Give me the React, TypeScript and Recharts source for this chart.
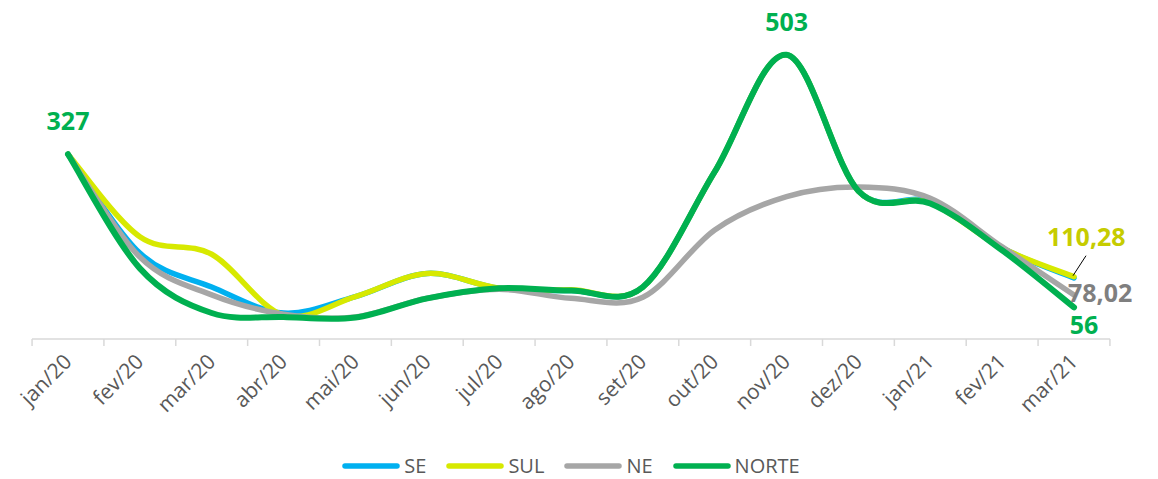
import { LineChart, Line, XAxis, YAxis, Legend, LabelList } from 'recharts'

const MESES = [
  'jan/20', 'fev/20', 'mar/20', 'abr/20', 'mai/20', 'jun/20', 'jul/20', 'ago/20',
  'set/20', 'out/20', 'nov/20', 'dez/20', 'jan/21', 'fev/21', 'mar/21',
]
const SE = [327, 152, 92, 46, 75, 116, 90, 86, 92, 296, 503, 262, 243, 161, 108]
const SUL = [327, 181, 150, 42, 75, 116, 90, 87, 92, 296, 503, 262, 241, 161, 110.28]
const NE = [327, 145, 78, 44, 39, 72, 88, 72, 74, 193, 252, 269, 249, 163, 78.02]
const NORTE = [327, 125, 46, 39, 38, 72, 90, 86, 92, 296, 503, 262, 240, 157, 56]

const SERIES = [
  { key: 'SE', color: '#00b0f0' },
  { key: 'SUL', color: '#d7e900' },
  { key: 'NE', color: '#a6a6a6' },
  { key: 'NORTE', color: '#00b050' },
]

const data = MESES.map((mes, i) => ({
  mes,
  SE: SE[i],
  SUL: SUL[i],
  NE: NE[i],
  NORTE: NORTE[i],
}))

const FONT = '"Open Sans", sans-serif'
const LAST = MESES.length - 1
const HALF_STEP = (1078 - 72) / 14 / 2

// smooth line like excel's (catmull-rom through every point)
const excelSmooth = (ctx: any) => {
  let pts: number[][] = []
  return {
    areaStart() {},
    areaEnd() {},
    lineStart() {
      pts = []
    },
    point(x: number, y: number) {
      pts.push([+x, +y])
    },
    lineEnd() {
      const n = pts.length
      if (!n) return
      ctx.moveTo(pts[0][0], pts[0][1])
      for (let i = 0; i < n - 1; i++) {
        const p0 = pts[Math.max(i - 1, 0)]
        const p1 = pts[i]
        const p2 = pts[i + 1]
        const p3 = pts[Math.min(i + 2, n - 1)]
        ctx.bezierCurveTo(
          p1[0] + (p2[0] - p0[0]) / 6,
          p1[1] + (p2[1] - p0[1]) / 6,
          p2[0] - (p3[0] - p1[0]) / 6,
          p2[1] - (p3[1] - p1[1]) / 6,
          p2[0],
          p2[1],
        )
      }
    },
  }
}

const fmt = (v: number) => (Number.isInteger(v) ? String(v) : v.toFixed(2).replace('.', ','))

const pos = (props: any) => ({
  x: props.x ?? props.viewBox?.x,
  y: props.y ?? props.viewBox?.y,
})

function rotuloNorte(props: any) {
  const { index, value } = props
  const { x, y } = pos(props)
  const style = { fontFamily: FONT, fontSize: 25, fontWeight: 700, fill: '#00b050' }
  if (index === 0 || index === 10) {
    return <text x={x} y={y - 24} textAnchor="middle" {...style}>{fmt(value)}</text>
  }
  if (index === LAST) {
    return <text x={x + 10} y={y + 27} textAnchor="middle" {...style}>{fmt(value)}</text>
  }
  return null
}

function rotuloNe(props: any) {
  const { index, value } = props
  if (index !== LAST) return null
  const { x, y } = pos(props)
  return (
    <text x={x - 6} y={y + 7} fontFamily={FONT} fontSize={25} fontWeight={700} fill="#7f7f7f">
      {fmt(value)}
    </text>
  )
}

function rotuloSul(props: any) {
  const { index, value } = props
  if (index !== LAST) return null
  const { x, y } = pos(props)
  return (
    <g>
      <line x1={x - 1} y1={y - 1} x2={x + 12} y2={y - 21} stroke="#000" strokeWidth={1} />
      <text x={x - 27} y={y - 31} fontFamily={FONT} fontSize={25} fontWeight={700} fill="#c6cc00">
        {fmt(value)}
      </text>
    </g>
  )
}

function MesTick({ x, y, payload, index, visibleTicksCount }: any) {
  return (
    <g>
      <line x1={x - HALF_STEP} x2={x - HALF_STEP} y1={y} y2={y + 7} stroke="#d9d9d9" strokeWidth={1.5} />
      {index === visibleTicksCount - 1 && (
        <line x1={x + HALF_STEP} x2={x + HALF_STEP} y1={y} y2={y + 7} stroke="#d9d9d9" strokeWidth={1.5} />
      )}
      <text
        x={x + 5}
        y={y + 24}
        textAnchor="end"
        transform={`rotate(-45 ${x + 5} ${y + 24})`}
        fontFamily={FONT}
        fontSize={21}
        fill="#595959"
      >
        {payload.value}
      </text>
    </g>
  )
}

function Legenda() {
  return (
    <div
      style={{
        display: 'flex',
        justifyContent: 'center',
        alignItems: 'center',
        gap: 20,
        paddingTop: 17,
        fontFamily: FONT,
        fontSize: 20,
        color: '#595959',
      }}
    >
      {SERIES.map((s) => (
        <div key={s.key} style={{ display: 'flex', alignItems: 'center', gap: 4 }}>
          <svg width={58} height={8}>
            <line x1={3} x2={55} y1={4} y2={4} stroke={s.color} strokeWidth={5.5} strokeLinecap="round" />
          </svg>
          <span style={{ lineHeight: '20px' }}>{s.key}</span>
        </div>
      ))}
    </div>
  )
}

export default function App() {
  return (
    <div style={{ position: 'absolute', left: 0, top: 0, width: 1158, height: 479, background: '#fff' }}>
      <LineChart width={1158} height={479} data={data} margin={{ top: 0, right: 48, bottom: 0, left: 32 }}>
        <XAxis
          dataKey="mes"
          interval={0}
          height={100}
          padding={{ left: 36, right: 36 }}
          axisLine={{ stroke: '#d9d9d9', strokeWidth: 1.5 }}
          tickLine={false}
          tickSize={0}
          tickMargin={0}
          tick={<MesTick />}
        />
        <YAxis hide domain={[0, 600]} />
        <Legend verticalAlign="bottom" height={40} content={() => <Legenda />} />
        {SERIES.map((s) => (
          <Line
            key={s.key}
            dataKey={s.key}
            type={excelSmooth as any}
            stroke={s.color}
            strokeWidth={s.key === 'NORTE' ? 6 : 5.5}
            strokeLinecap="round"
            dot={false}
            activeDot={false}
            isAnimationActive={false}
          >
            {s.key === 'NORTE' && <LabelList dataKey="NORTE" content={rotuloNorte} />}
            {s.key === 'NE' && <LabelList dataKey="NE" content={rotuloNe} />}
            {s.key === 'SUL' && <LabelList dataKey="SUL" content={rotuloSul} />}
          </Line>
        ))}
      </LineChart>
    </div>
  )
}
